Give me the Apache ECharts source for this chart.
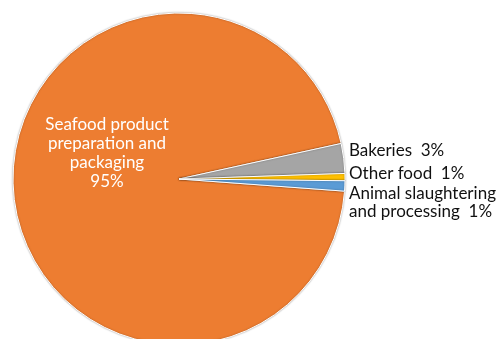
<!DOCTYPE html>
<html>
<head>
<meta charset="utf-8">
<script src="https://cdn.jsdelivr.net/npm/echarts@6/dist/echarts.min.js"></script>
<style>
    html, body { margin: 0; padding: 0; background: #fff; }
    #pieChart { width: 502px; height: 339px; }
</style>
</head>
<body>
<div id="pieChart"></div>
<script>
    // 行业名称
    var categories = [
        'Seafood product\npreparation and\npackaging',
        'Bakeries',
        'Other food',
        'Animal slaughtering\nand processing'
    ];
    // 占比(%)
    var shares = [95.4, 2.9, 0.7, 1.0];
    var sliceColors = ['#ED7D31', '#A5A5A5', '#FFC000', '#5B9BD5'];

    var pieData = [];
    for (var i = 0; i < categories.length; i++) {
        pieData.push({name: categories[i], value: shares[i]});
    }
    // 第一块标签放在扇区内部，白色
    pieData[0].label = {color: '#fff', align: 'center', lineHeight: 19};

    var chart = echarts.init(document.getElementById('pieChart'));
    chart.setOption({
        animation: false,
        color: sliceColors,
        series: [
            {
                type: 'pie',
                center: [179, 179],
                radius: 166,
                startAngle: -4.2,
                clockwise: true,
                percentPrecision: 0,
                avoidLabelOverlap: false,
                data: pieData,
                itemStyle: {
                    borderColor: '#fff',
                    borderWidth: 1,
                    shadowBlur: 2,
                    shadowColor: 'rgba(0,0,0,0.35)'
                },
                labelLine: {show: false},
                label: {
                    position: 'outside',
                    fontFamily: 'Lato',
                    fontSize: 17,
                    lineHeight: 18,
                    color: '#111',
                    formatter: function (p) {
                        if (p.dataIndex === 0) {
                            return p.name + '\n' + p.percent + '%';
                        }
                        return p.name + '  ' + p.percent + '%';
                    }
                },
                labelLayout: function (p) {
                    if (p.dataIndex === 0) {
                        return {x: 107, y: 153, align: 'center', verticalAlign: 'middle'};
                    }
                    var ys = [0, 151, 174, 203];
                    return {x: 349, y: ys[p.dataIndex], align: 'left', verticalAlign: 'middle'};
                }
            }
        ]
    });
</script>
</body>
</html>
